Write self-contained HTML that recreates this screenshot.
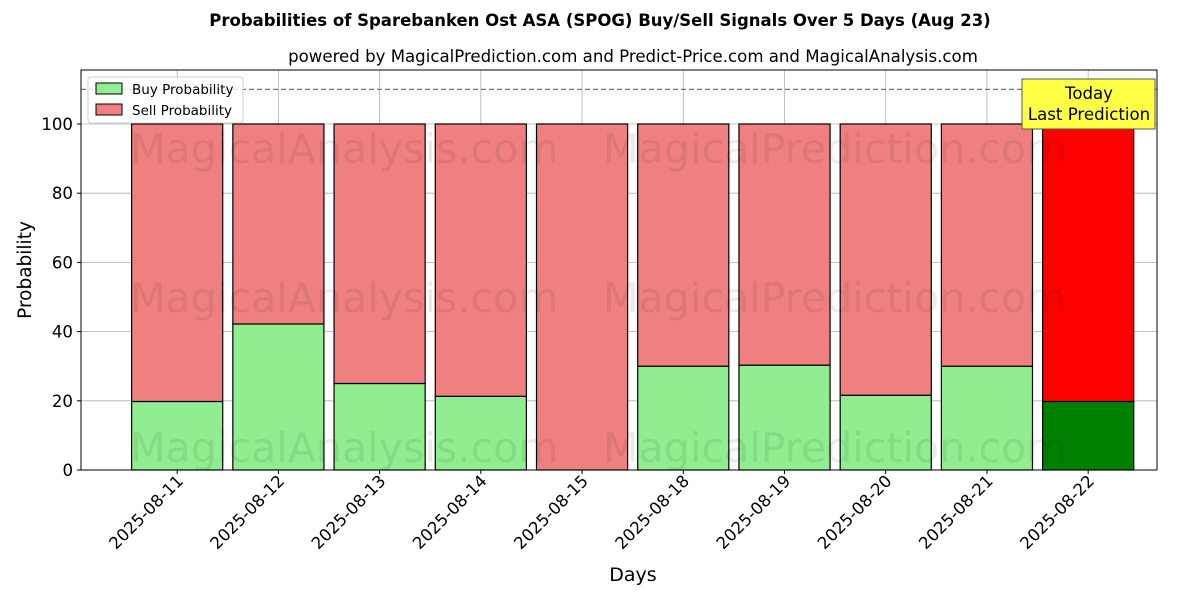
<!DOCTYPE html>
<html><head><meta charset="utf-8"><style>
body{margin:0;background:#fff;font-family:"DejaVu Sans","Liberation Sans",sans-serif}
svg text{font-family:"DejaVu Sans","Liberation Sans",sans-serif}
</style></head><body>
<svg id="c" width="1200" height="600" xmlns="http://www.w3.org/2000/svg">
<text x="600" y="26" text-anchor="middle" font-size="16.5" font-weight="bold">Probabilities of Sparebanken Ost ASA (SPOG) Buy/Sell Signals Over 5 Days (Aug 23)</text>
<text x="633" y="62" text-anchor="middle" font-size="16.6">powered by MagicalPrediction.com and Predict-Price.com and MagicalAnalysis.com</text>
<g id="grid"></g>
<g id="bars"></g>
<g id="wm" fill="#000" fill-opacity="0.08" font-size="41.2">
<text x="130" y="163">MagicalAnalysis.com</text><text x="603" y="163">MagicalPrediction.com</text>
<text x="130" y="312">MagicalAnalysis.com</text><text x="603" y="312">MagicalPrediction.com</text>
<text x="130" y="462">MagicalAnalysis.com</text><text x="603" y="462">MagicalPrediction.com</text>
</g>
<line x1="81" x2="1157" y1="89.4" y2="89.4" stroke="#777" stroke-dasharray="5,3" stroke-width="1.2"/>
<rect x="81" y="70" width="1076" height="400" fill="none" stroke="#000" stroke-width="1"/>
<g id="ticks"></g>
<text x="31" y="270" transform="rotate(-90 31 270)" text-anchor="middle" font-size="18.5">Probability</text>
<text x="633" y="581" text-anchor="middle" font-size="19">Days</text>
<g>
<rect x="88" y="77" width="155" height="46" fill="#fff" fill-opacity="0.8" stroke="#ccc" rx="3"/>
<rect x="96" y="83" width="26" height="11" fill="#90ee90" stroke="#000"/>
<text x="132" y="94" font-size="13.5">Buy Probability</text>
<rect x="96" y="104" width="26" height="11" fill="#f08080" stroke="#000"/>
<text x="132" y="115" font-size="13.5">Sell Probability</text>
</g>
<g>
<rect x="1022" y="79" width="133" height="50" fill="#ffff44" stroke="#555"/>
<text x="1089" y="99" text-anchor="middle" font-size="16.6">Today</text>
<text x="1089" y="120" text-anchor="middle" font-size="16.6">Last Prediction</text>
</g>
</svg>
<script>
const categories=["2025-08-11","2025-08-12","2025-08-13","2025-08-14","2025-08-15","2025-08-18","2025-08-19","2025-08-20","2025-08-21","2025-08-22"];
const buyValues=[19.8,42.2,25,21.3,0,30,30.3,21.6,30,19.8];
const sellValues=[80.2,57.8,75,78.7,100,70,69.7,78.4,70,80.2];
const yTicks=[0,20,40,60,80,100];
const NS="http://www.w3.org/2000/svg";
const X0=81,X1=1157,Y0=470,Y1=70,xmin=-0.95,xmax=9.68,ymin=0,ymax=115.6;
const xs=v=>X0+(v-xmin)/(xmax-xmin)*(X1-X0);
const ys=v=>Y0-(v-ymin)/(ymax-ymin)*(Y0-Y1);
const bw=(xs(0.9)-xs(0));
function mk(t,a,p){const e=document.createElementNS(NS,t);for(const k in a)e.setAttribute(k,a[k]);p.appendChild(e);return e;}
const grid=document.getElementById('grid'),bars=document.getElementById('bars'),ticks=document.getElementById('ticks');
yTicks.forEach(v=>{
 const l=mk('line',{x1:X0,x2:X1,y1:ys(v),y2:ys(v),stroke:'#b0b0b0','stroke-width':0.8},grid);
 
 
 const tk=mk('line',{x1:X0-4,x2:X0,y1:ys(v),y2:ys(v),stroke:'#000'},ticks);
 
 
 const t=mk('text',{x:X0-8,y:ys(v)+6,'text-anchor':'end','font-size':16.6},ticks);
 t.textContent=v;
 
 
});
categories.forEach((c,i)=>{
 const cx=xs(i);
 const g=mk('line',{x1:cx,x2:cx,y1:Y1,y2:Y0,stroke:'#b0b0b0','stroke-width':0.8},grid);
 
 
 const last=i===categories.length-1;
 const b=mk('rect',{x:cx-bw/2,y:ys(buyValues[i]),width:bw,height:ys(0)-ys(buyValues[i]),fill:last?'#008000':'#90ee90',stroke:'#000','stroke-width':1.2},bars);
 
 
 const s=mk('rect',{x:cx-bw/2,y:ys(buyValues[i]+sellValues[i]),width:bw,height:ys(buyValues[i])-ys(buyValues[i]+sellValues[i]),fill:last?'#ff0000':'#f08080',stroke:'#000','stroke-width':1.2},bars);
 
 
 const tk=mk('line',{x1:cx,x2:cx,y1:Y0,y2:Y0+4,stroke:'#000'},ticks);
 
 
 const t=mk('text',{x:cx+7,y:Y0+12,'text-anchor':'end','font-size':16.6,transform:`rotate(-45 ${cx+7} ${Y0+12})`},ticks);
 t.textContent=c;
 
 
});
</script>
</body></html>
